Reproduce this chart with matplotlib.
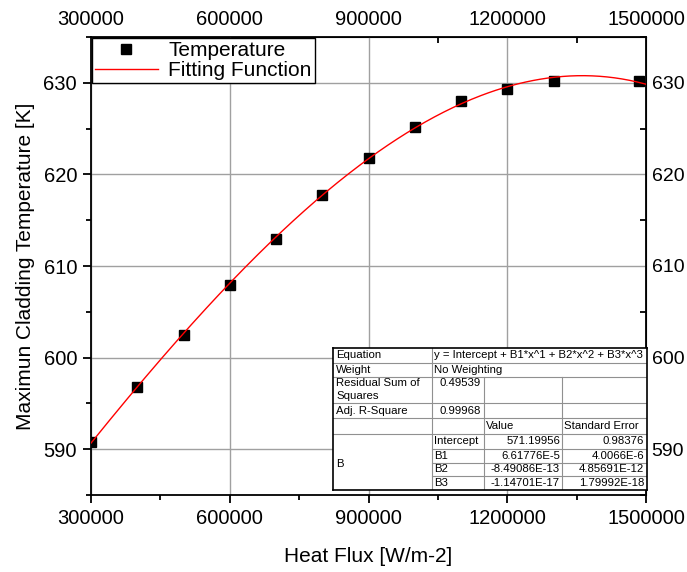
import numpy as np
import matplotlib
matplotlib.use("Agg")
import matplotlib.pyplot as plt
from matplotlib.ticker import MultipleLocator, FormatStrFormatter

plt.rcParams["font.family"] = ["Liberation Sans", "DejaVu Sans"]

# measured points
heat_flux = [300000, 400000, 500000, 600000, 700000, 800000, 900000,
             1000000, 1100000, 1200000, 1300000, 1485000]
temperature = [590.76, 596.8, 602.5, 607.95, 613.0, 617.7, 621.8,
               625.2, 628.0, 629.3, 630.15, 630.2]

# cubic fit from the report table
intercept = 571.19956
b1 = 6.61776E-5
b2 = -8.49086E-13
b3 = -1.14701E-17

xticks = [300000, 600000, 900000, 1200000, 1500000]
yticks = [590, 600, 610, 620, 630]

fig = plt.figure(figsize=(6.87, 5.72), dpi=100)
W, H = 687.0, 572.0
ax = fig.add_axes([91 / W, 1 - 495 / H, 555 / W, 458 / H])

xf = np.linspace(300000, 1500000, 300)
yf = intercept + b1 * xf + b2 * xf**2 + b3 * xf**3
ax.plot(heat_flux, temperature, "s", color="black", ms=7.5,
        label="Temperature", zorder=3)
ax.plot(xf, yf, color="red", lw=1, label="Fitting Function", zorder=4)

ax.set_xlim(300000, 1500000)
ax.set_ylim(585, 635)
ax.set_xticks(xticks)
ax.set_yticks(yticks)
ax.xaxis.set_major_formatter(FormatStrFormatter("%d"))
ax.xaxis.set_minor_locator(MultipleLocator(150000))
ax.yaxis.set_minor_locator(MultipleLocator(5))
ax.grid(True, which="major", color="#a0a0a0", lw=1)
ax.tick_params(which="both", direction="out", labelsize=14.5, width=1.3)
ax.tick_params(which="major", length=6, pad=4)
ax.tick_params(which="minor", length=3.5)
for s in ax.spines.values():
    s.set_linewidth(1.3)

# top and right axes repeat the labels, ticks inside
top = ax.secondary_xaxis("top")
top.set_xticks(xticks)
top.xaxis.set_major_formatter(FormatStrFormatter("%d"))
top.xaxis.set_minor_locator(MultipleLocator(150000))
top.tick_params(which="both", direction="in", labelsize=14.5, width=1.3)
top.tick_params(which="major", length=0, pad=6)
top.tick_params(which="minor", length=4)
right = ax.secondary_yaxis("right")
right.set_yticks(yticks)
right.yaxis.set_minor_locator(MultipleLocator(5))
right.tick_params(which="both", direction="in", labelsize=14, width=1.3)
right.tick_params(which="major", length=0, pad=4)
right.tick_params(which="minor", length=4)

ax.set_xlabel("Heat Flux [W/m-2]", fontsize=15, labelpad=14)
ax.set_ylabel("Maximun Cladding Temperature [K]", fontsize=15, labelpad=6)

leg = ax.legend(loc="upper left", fontsize=15, fancybox=False,
                framealpha=1, edgecolor="black", borderaxespad=0.05,
                handlelength=3.0, borderpad=0.15, labelspacing=0.05,
                handletextpad=0.5, numpoints=1)
leg.get_frame().set_linewidth(1)

# fit report table (pixel layout)
tx0, tx1, ty0, ty1 = 333, 647, 348, 490
tab = fig.add_axes([tx0 / W, 1 - ty1 / H, (tx1 - tx0) / W, (ty1 - ty0) / H])
tab.set_xlim(tx0, tx1)
tab.set_ylim(ty1, ty0)
tab.set_facecolor("white")
tab.set_xticks([])
tab.set_yticks([])
for s in tab.spines.values():
    s.set_linewidth(1.2)
tab.set_zorder(5)

c1, c2, c3 = 432, 484, 562
rows = [363, 377, 403, 418, 434, 449, 463, 476]
lc = "#909090"
for r in rows[:5]:
    tab.plot([tx0, tx1], [r, r], color=lc, lw=0.8)
for r in rows[5:]:
    tab.plot([c1, tx1], [r, r], color=lc, lw=0.8)
tab.plot([c1, c1], [ty0, ty1], color=lc, lw=0.8)
tab.plot([c2, c2], [377, ty1], color=lc, lw=0.8)
tab.plot([c3, c3], [377, ty1], color=lc, lw=0.8)

fs = 8.2
def cell(x, y, s, ha="left"):
    tab.text(x, y, s, fontsize=fs, ha=ha, va="center")

cell(tx0 + 3, 355.5, "Equation")
cell(c1 + 2, 355.5, "y = Intercept + B1*x^1 + B2*x^2 + B3*x^3")
cell(tx0 + 3, 370, "Weight")
cell(c1 + 2, 370, "No Weighting")
cell(tx0 + 3, 383.5, "Residual Sum of")
cell(tx0 + 3, 396, "Squares")
cell(c2 - 3, 383.5, "0.49539", "right")
cell(tx0 + 3, 410.5, "Adj. R-Square")
cell(c2 - 3, 410.5, "0.99968", "right")
cell(c2 + 2, 426, "Value")
cell(c3 + 2, 426, "Standard Error")
cell(tx0 + 3, 464, "B")

names = ["Intercept", "B1", "B2", "B3"]
values = ["571.19956", "6.61776E-5", "-8.49086E-13", "-1.14701E-17"]
errors = ["0.98376", "4.0066E-6", "4.85691E-12", "1.79992E-18"]
ycen = [441.5, 456, 469.5, 483]
for n, v, e, y in zip(names, values, errors, ycen):
    cell(c1 + 2, y, n)
    cell(c3 - 2, y, v, "right")
    cell(tx1 - 3, y, e, "right")

fig.savefig("out.png", dpi=100)
